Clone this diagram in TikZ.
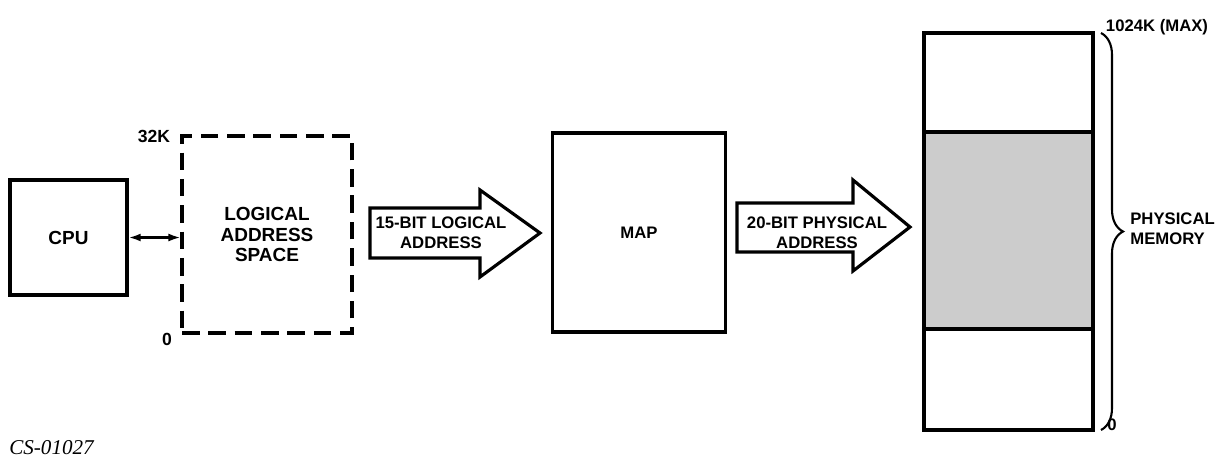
\documentclass[tikz,border=0pt]{standalone}
\usepackage{fontspec}
\setmainfont{Liberation Sans}
\newfontfamily\tagfont{Liberation Serif}
\usetikzlibrary{arrows.meta,decorations.pathreplacing}

\tikzset{
  lbl/.style={font=\fontsize{9.5}{11.4}\selectfont\bfseries, align=center},
  biglbl/.style={font=\fontsize{10.8}{11.6}\selectfont\bfseries, align=center},
  box/.style={draw, line width=2pt, inner sep=0pt},
  dashbox/.style={box, line width=1.8pt, dash pattern=on 10pt off 5pt},
  memblock/.style={draw, line width=2.2pt, inner sep=0pt, minimum width=3.38cm},
  bigarrow/.style={draw, line width=1.8pt, line join=miter},
}

\begin{document}
\begin{tikzpicture}[x=0.02cm, y=-0.02cm, >={Latex[length=2.4mm,width=1.6mm]}]
  \useasboundingbox[fill=white] (0,0) rectangle (1217,461);

  % CPU and logical space
  \node[box, biglbl, minimum width=2.34cm, minimum height=2.30cm] (cpu) at (68.5,237.5) {CPU};
  \node[dashbox, biglbl, minimum width=3.40cm, minimum height=3.94cm] (las) at (267,234.5) {LOGICAL\\ADDRESS\\SPACE};
  \draw[<->, line width=1.2pt] (cpu.east) -- (cpu.east -| las.west);
  \node[lbl, font=\fontsize{10}{12}\selectfont\bfseries] (lastop) at (154,136) {32K};
  \node[lbl, font=\fontsize{10}{12}\selectfont\bfseries] (lasbot) at (167,339) {0};

  % Logical address arrow
  \draw[bigarrow] (370,208) -- (480,208) -- (480,190) -- (540,233)
    -- (480,277) -- (480,258) -- (370,258) -- cycle;
  \node[lbl] (logaddr) at (441,233) {15-BIT LOGICAL\\ADDRESS};

  % Map
  \node[box, lbl, minimum width=3.46cm, minimum height=3.98cm] (map) at (639,232.5) {MAP};

  % Physical address arrow
  \draw[bigarrow] (737,203) -- (853,203) -- (853,180) -- (910,227)
    -- (853,271) -- (853,252) -- (737,252) -- cycle;
  \node[lbl] (physaddr) at (817,233) {20-BIT PHYSICAL\\ADDRESS};

  % Physical memory
  \node[memblock, minimum height=1.98cm] (memtop) at (1008.5,82.5) {};
  \node[memblock, fill=gray!40, minimum height=3.94cm] (memmid) at (1008.5,230.5) {};
  \node[memblock, minimum height=2.02cm] (membot) at (1008.5,379.5) {};

  \coordinate (bracetop) at (1101,33);
  \coordinate (bracebot) at (1101,430);
  \draw[line width=1.2pt, decorate, decoration={brace, amplitude=0.44cm}] (bracetop) -- (bracebot);
  \node[lbl] (memmax) at (1157,27) {1024K (MAX)};
  \node[lbl] (memzero) at (1112,425) {0};
  \node[lbl, anchor=west, align=left, inner sep=0pt] (memlbl) at (1130,229) {PHYSICAL\\MEMORY};

  % Figure tag
  \node[anchor=west, inner sep=0pt, font=\tagfont\itshape\fontsize{12}{14}\selectfont] (figtag) at (9,448) {CS-01027};
\end{tikzpicture}
\end{document}
